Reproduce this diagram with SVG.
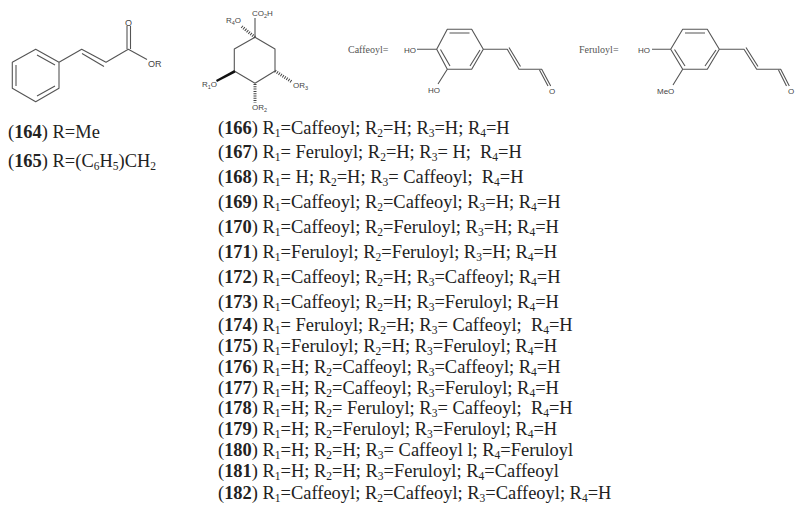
<svg xmlns="http://www.w3.org/2000/svg" width="798" height="512" viewBox="0 0 798 512">
<style>
.t{font-family:"Liberation Serif","Times New Roman",serif;font-size:18.45px;fill:#222;white-space:pre}
.b{font-weight:bold}
.s{font-size:11.5px;baseline-shift:-3px}
.bond{fill:none;stroke:#555;stroke-width:1.1;stroke-linejoin:round}
.a{font-family:"Liberation Sans",Arial,sans-serif;font-size:8px;fill:#444}
.a .u{font-size:5.5px;baseline-shift:-2px}
.h{fill:none;stroke:#444;stroke-width:3}
.l{font-family:"Liberation Serif","Times New Roman",serif;font-size:10px;fill:#555}
</style>
<rect width="798" height="512" fill="#fff"/>
<g id="cinnamate">
<path class="bond" d="M35.7 49.3L59 62.3V88.3L35.7 101.7L12.3 88.3V62.3ZM16 65V86M37 55L55 65M37 96L55 86M59 62.3L81.7 49.3L106 62.3L128.3 49.3L147 59.5M82 53.5L104 66.5M127 49V26M130.5 49V26"/>
<text class="a" style="font-size:9px" x="125" y="26">O</text>
<text class="a" style="font-size:9px" x="148" y="67">OR</text>
</g>
<g id="quinic">
<path class="bond" d="M255 37.3L275 49V71L255 83.3L234.3 71V49ZM255 37.3V18"/>
<path d="M234.3 70L235.5 72.5L217 82L216 80Z" fill="#111"/>
<path class="h" stroke-dasharray="1 1.3" d="M255 37.3L241 26"/>
<path class="h" stroke-dasharray="1 1.3" d="M275 71L292 82"/>
<path class="h" stroke-dasharray="1 1.3" d="M255 84V103"/>
<text class="a" x="252" y="16">CO<tspan class="u">2</tspan>H</text>
<text class="a" x="226" y="23">R<tspan class="u">4</tspan>O</text>
<text class="a" x="202" y="87">R<tspan class="u">1</tspan>O</text>
<text class="a" x="293" y="88">OR<tspan class="u">3</tspan></text>
<text class="a" x="252" y="110">OR<tspan class="u">2</tspan></text>
</g>
<g id="caffeoyl">
<text class="l" x="348" y="53">Caffeoyl=</text>
<path class="bond" d="M447.3 29.3H471.7L483.3 49.3L471.7 69.3H447.3L436.7 49.3ZM449.5 33H469.5M440.5 49.5L450 66M480 50L470 66M483.3 49.3H507.3L519 69.3H541.7L550.7 86M509 47.5L520.5 66.5M539.5 70L548 86M417 49.3H436.7M447.3 69.3L438 84"/>
<text class="a" x="404" y="52.500">HO</text>
<text class="a" x="428" y="92.500">HO</text>
<text class="a" x="549" y="93.500">O</text>
</g>
<g id="feruloyl">
<text class="l" x="579" y="53">Feruloyl=</text>
<path class="bond" d="M682.7 29.3H707.3L719.3 49.3L707.3 69.3H682.7L670.7 49.3ZM685 33H705M674.5 49.5L685 66M716 50L705 66M719.3 49.3H744L756.7 69.3H780.7L789.3 86M746 47.5L758 66.5M778.5 70L786.5 86M652 49.3H670.7M682.7 69.3L673 85"/>
<text class="a" x="638" y="52.500">HO</text>
<text class="a" x="657" y="93.500">MeO</text>
<text class="a" x="788" y="93.500">O</text>
</g>
<g id="labels">
<text class="t" x="8" y="138">(<tspan class="b">164</tspan>) R=Me</text>
<text class="t" x="8" y="167">(<tspan class="b">165</tspan>) R=(C<tspan class="s">6</tspan>H<tspan class="s">5</tspan>)CH<tspan class="s">2</tspan></text>
<text class="t" x="218" y="133.500">(<tspan class="b">166</tspan>) R<tspan class="s">1</tspan>=Caffeoyl; R<tspan class="s">2</tspan>=H; R<tspan class="s">3</tspan>=H; R<tspan class="s">4</tspan>=H</text>
<text class="t" x="218" y="158">(<tspan class="b">167</tspan>) R<tspan class="s">1</tspan>= Feruloyl; R<tspan class="s">2</tspan>=H; R<tspan class="s">3</tspan>= H;  R<tspan class="s">4</tspan>=H</text>
<text class="t" x="218" y="183">(<tspan class="b">168</tspan>) R<tspan class="s">1</tspan>= H; R<tspan class="s">2</tspan>=H; R<tspan class="s">3</tspan>= Caffeoyl;  R<tspan class="s">4</tspan>=H</text>
<text class="t" x="218" y="208">(<tspan class="b">169</tspan>) R<tspan class="s">1</tspan>=Caffeoyl; R<tspan class="s">2</tspan>=Caffeoyl; R<tspan class="s">3</tspan>=H; R<tspan class="s">4</tspan>=H</text>
<text class="t" x="218" y="233">(<tspan class="b">170</tspan>) R<tspan class="s">1</tspan>=Caffeoyl; R<tspan class="s">2</tspan>=Feruloyl; R<tspan class="s">3</tspan>=H; R<tspan class="s">4</tspan>=H</text>
<text class="t" x="218" y="258">(<tspan class="b">171</tspan>) R<tspan class="s">1</tspan>=Feruloyl; R<tspan class="s">2</tspan>=Feruloyl; R<tspan class="s">3</tspan>=H; R<tspan class="s">4</tspan>=H</text>
<text class="t" x="218" y="283">(<tspan class="b">172</tspan>) R<tspan class="s">1</tspan>=Caffeoyl; R<tspan class="s">2</tspan>=H; R<tspan class="s">3</tspan>=Caffeoyl; R<tspan class="s">4</tspan>=H</text>
<text class="t" x="218" y="308">(<tspan class="b">173</tspan>) R<tspan class="s">1</tspan>=Caffeoyl; R<tspan class="s">2</tspan>=H; R<tspan class="s">3</tspan>=Feruloyl; R<tspan class="s">4</tspan>=H</text>
<text class="t" x="218" y="331">(<tspan class="b">174</tspan>) R<tspan class="s">1</tspan>= Feruloyl; R<tspan class="s">2</tspan>=H; R<tspan class="s">3</tspan>= Caffeoyl;  R<tspan class="s">4</tspan>=H</text>
<text class="t" x="218" y="352">(<tspan class="b">175</tspan>) R<tspan class="s">1</tspan>=Feruloyl; R<tspan class="s">2</tspan>=H; R<tspan class="s">3</tspan>=Feruloyl; R<tspan class="s">4</tspan>=H</text>
<text class="t" x="218" y="372.500">(<tspan class="b">176</tspan>) R<tspan class="s">1</tspan>=H; R<tspan class="s">2</tspan>=Caffeoyl; R<tspan class="s">3</tspan>=Caffeoyl; R<tspan class="s">4</tspan>=H</text>
<text class="t" x="218" y="393.500">(<tspan class="b">177</tspan>) R<tspan class="s">1</tspan>=H; R<tspan class="s">2</tspan>=Caffeoyl; R<tspan class="s">3</tspan>=Feruloyl; R<tspan class="s">4</tspan>=H</text>
<text class="t" x="218" y="414">(<tspan class="b">178</tspan>) R<tspan class="s">1</tspan>=H; R<tspan class="s">2</tspan>= Feruloyl; R<tspan class="s">3</tspan>= Caffeoyl;  R<tspan class="s">4</tspan>=H</text>
<text class="t" x="218" y="435">(<tspan class="b">179</tspan>) R<tspan class="s">1</tspan>=H; R<tspan class="s">2</tspan>=Feruloyl; R<tspan class="s">3</tspan>=Feruloyl; R<tspan class="s">4</tspan>=H</text>
<text class="t" x="218" y="456">(<tspan class="b">180</tspan>) R<tspan class="s">1</tspan>=H; R<tspan class="s">2</tspan>=H; R<tspan class="s">3</tspan>= Caffeoyl l; R<tspan class="s">4</tspan>=Feruloyl</text>
<text class="t" x="218" y="477">(<tspan class="b">181</tspan>) R<tspan class="s">1</tspan>=H; R<tspan class="s">2</tspan>=H; R<tspan class="s">3</tspan>=Feruloyl; R<tspan class="s">4</tspan>=Caffeoyl</text>
<text class="t" x="218" y="498.500">(<tspan class="b">182</tspan>) R<tspan class="s">1</tspan>=Caffeoyl; R<tspan class="s">2</tspan>=Caffeoyl; R<tspan class="s">3</tspan>=Caffeoyl; R<tspan class="s">4</tspan>=H</text>
</g>
</svg>
